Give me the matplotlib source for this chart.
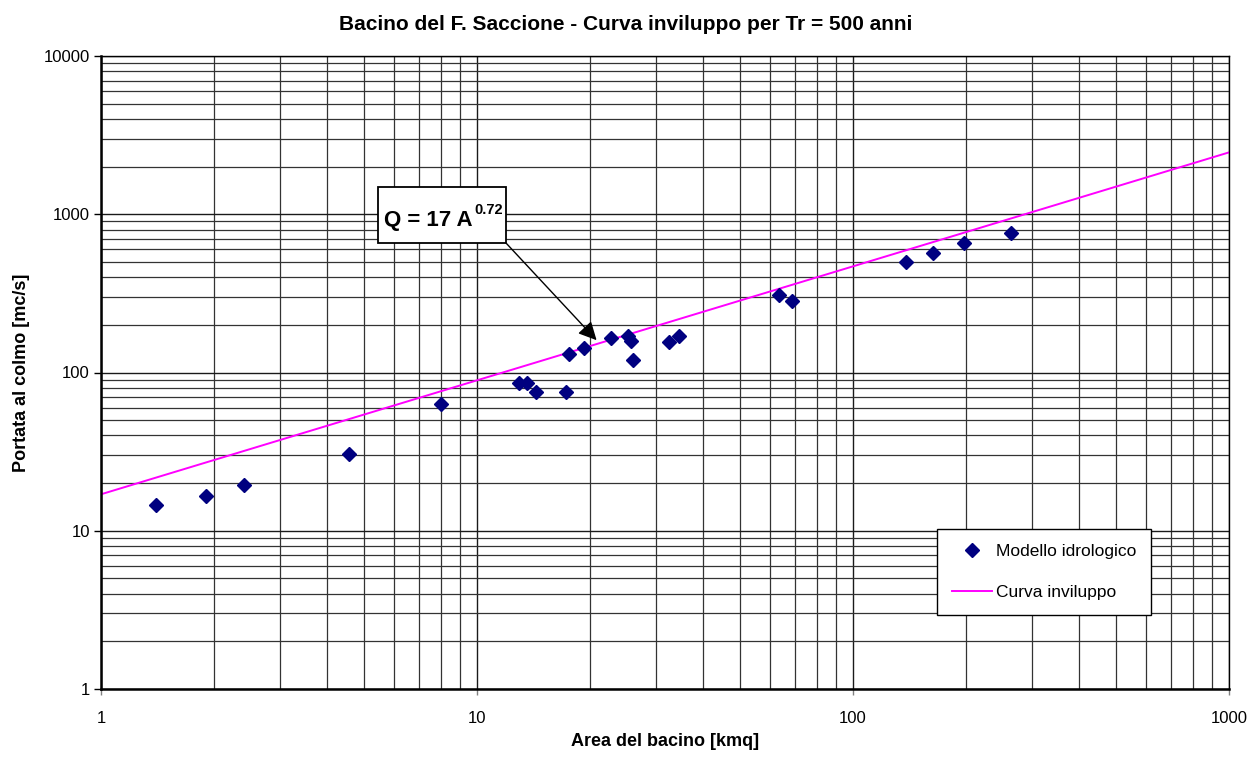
import matplotlib
matplotlib.use("Agg")
from matplotlib import pyplot as plt
from matplotlib.patches import Rectangle
from matplotlib.ticker import FixedLocator, FuncFormatter, LogLocator, NullFormatter

plt.rcParams['font.family'] = ['Liberation Sans', 'DejaVu Sans']

# bacini: area [kmq] e portata al colmo [mc/s]
area = [1.40, 1.90, 2.40, 4.58, 8.0, 12.9, 13.6, 14.35, 17.2, 17.6, 19.3,
        22.7, 25.2, 25.7, 26.05, 32.5, 34.5, 63.7, 68.8, 138, 163.5, 197, 263]
portata = [14.5, 16.6, 19.5, 30.5, 63, 86, 86, 75.6, 75.6, 131, 142,
           166, 170, 157, 120.5, 155, 170, 309, 283, 501, 571, 661, 758]

# curva inviluppo (retta in scala log-log)
curva_x = [1, 1000]
curva_y = [17, 2460]

W, H = 1250, 758
fig = plt.figure(figsize=(W / 100, H / 100), dpi=100)
ax = fig.add_axes([101 / W, 1 - 689 / H, 1128 / W, 633 / H])

ax.set_xscale("log")
ax.set_yscale("log")
ax.set_xlim(1, 1000)
ax.set_ylim(1, 10000)

ax.xaxis.set_major_locator(FixedLocator([1, 10, 100, 1000]))
ax.yaxis.set_major_locator(FixedLocator([1, 10, 100, 1000, 10000]))
ax.xaxis.set_minor_locator(LogLocator(base=10, subs=range(2, 10)))
ax.yaxis.set_minor_locator(LogLocator(base=10, subs=range(2, 10)))
fmt = FuncFormatter(lambda v, p: f"{v:g}")
ax.xaxis.set_major_formatter(fmt)
ax.yaxis.set_major_formatter(fmt)
ax.xaxis.set_minor_formatter(NullFormatter())
ax.yaxis.set_minor_formatter(NullFormatter())

ax.grid(True, which="major", color="0.1", linewidth=1.0)
ax.grid(True, which="minor", color="0.2", linewidth=0.9)
ax.set_axisbelow(True)

ax.tick_params(axis="y", which="major", length=5, width=1, labelsize=12, pad=3)
ax.tick_params(axis="x", which="major", length=4, width=1, color="0.5", labelsize=12, pad=12)
ax.tick_params(which="minor", length=0)

for s in ["top", "right"]:
    ax.spines[s].set_linewidth(1.0)
for s in ["left", "bottom"]:
    ax.spines[s].set_linewidth(1.8)

ax.plot(area, portata, linestyle="none", marker="D", markersize=7,
        color="#000080", label="Modello idrologico", zorder=3)
ax.plot(curva_x, curva_y, color="#FF00FF", linewidth=1.4,
        label="Curva inviluppo", zorder=2)

# riquadro con l'equazione e freccia
box = Rectangle((378 / W, 1 - 243 / H), 128 / W, 56 / H, transform=fig.transFigure,
                facecolor="white", edgecolor="black", linewidth=1.3, zorder=6)
fig.patches.append(box)
fig.text(473 / W, 1 - 226 / H, "Q = 17 A", fontsize=16, fontweight="bold",
         ha="right", va="baseline", zorder=7)
fig.text(474 / W, 1 - 214 / H, "0.72", fontsize=10.5, fontweight="bold",
         ha="left", va="baseline", zorder=7)
ax.annotate("", xy=(20.8, 160), xytext=(506 / W, 1 - 243 / H), textcoords="figure fraction",
            arrowprops=dict(arrowstyle="-|>,head_length=1.1,head_width=0.55", color="black",
                            linewidth=1.0, shrinkA=0, shrinkB=0),
            zorder=5)

leg = ax.legend(loc="upper left", bbox_to_anchor=((937 - 101) / 1128, (689 - 529) / 633),
                fontsize=12.5, frameon=True, fancybox=False, edgecolor="black", framealpha=1,
                labelspacing=1.5, borderpad=0.85, handlelength=2.3, handletextpad=0.25,
                borderaxespad=0)
leg.get_frame().set_linewidth(1.0)

fig.text(0.5008, 1 - 25 / H, "Bacino del F. Saccione - Curva inviluppo per Tr = 500 anni",
         fontsize=15, fontweight="bold", ha="center", va="center")
ax.set_xlabel("Area del bacino [kmq]", fontsize=13, fontweight="bold", labelpad=5)
ax.set_ylabel("Portata al colmo [mc/s]", fontsize=13, fontweight="bold", labelpad=10)

fig.savefig("out.png", dpi=100)
